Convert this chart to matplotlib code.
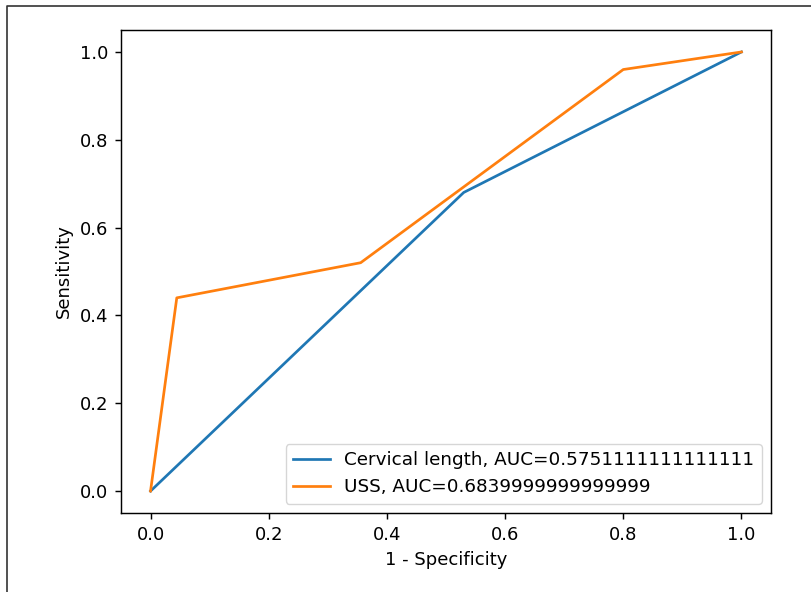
import matplotlib
matplotlib.use("Agg")
import matplotlib.pyplot as plt
from matplotlib.lines import Line2D

cervical_fpr = [0.0, 0.53, 1.0]
cervical_tpr = [0.0, 0.68, 1.0]
uss_fpr = [0.0, 0.0444, 0.3556, 0.8, 1.0]
uss_tpr = [0.0, 0.44, 0.52, 0.96, 1.0]
labels = ["Cervical length, AUC=0.5751111111111111", "USS, AUC=0.6839999999999999"]

s = 1.3
plt.rcParams.update({
    "font.size": 10 * s,
    "lines.linewidth": 1.5 * s,
    "axes.linewidth": 0.8 * s,
    "xtick.major.size": 3.5 * s,
    "ytick.major.size": 3.5 * s,
    "xtick.major.width": 0.8 * s,
    "ytick.major.width": 0.8 * s,
    "xtick.major.pad": 3.5 * s,
    "ytick.major.pad": 3.5 * s,
    "axes.labelpad": 4.0 * s,
})

fig = plt.figure(figsize=(8.11, 5.92), dpi=100)
ax = fig.add_axes([121/811, 1-513/592, (771-121)/811, (513-30)/592])
ax.plot(cervical_fpr, cervical_tpr, label=labels[0])
ax.plot(uss_fpr, uss_tpr, label=labels[1])
ax.set_xlabel("1 - Specificity")
ax.set_ylabel("Sensitivity")
ax.legend(loc="lower right", fontsize=13.2)

x0 = 6.5/811
y0 = 1 - 6/592
fig.add_artist(Line2D([x0, x0, 1.0], [0.0, y0, y0], transform=fig.transFigure,
                      color="#333333", linewidth=1.2))
fig.savefig("out.png", dpi=100)
